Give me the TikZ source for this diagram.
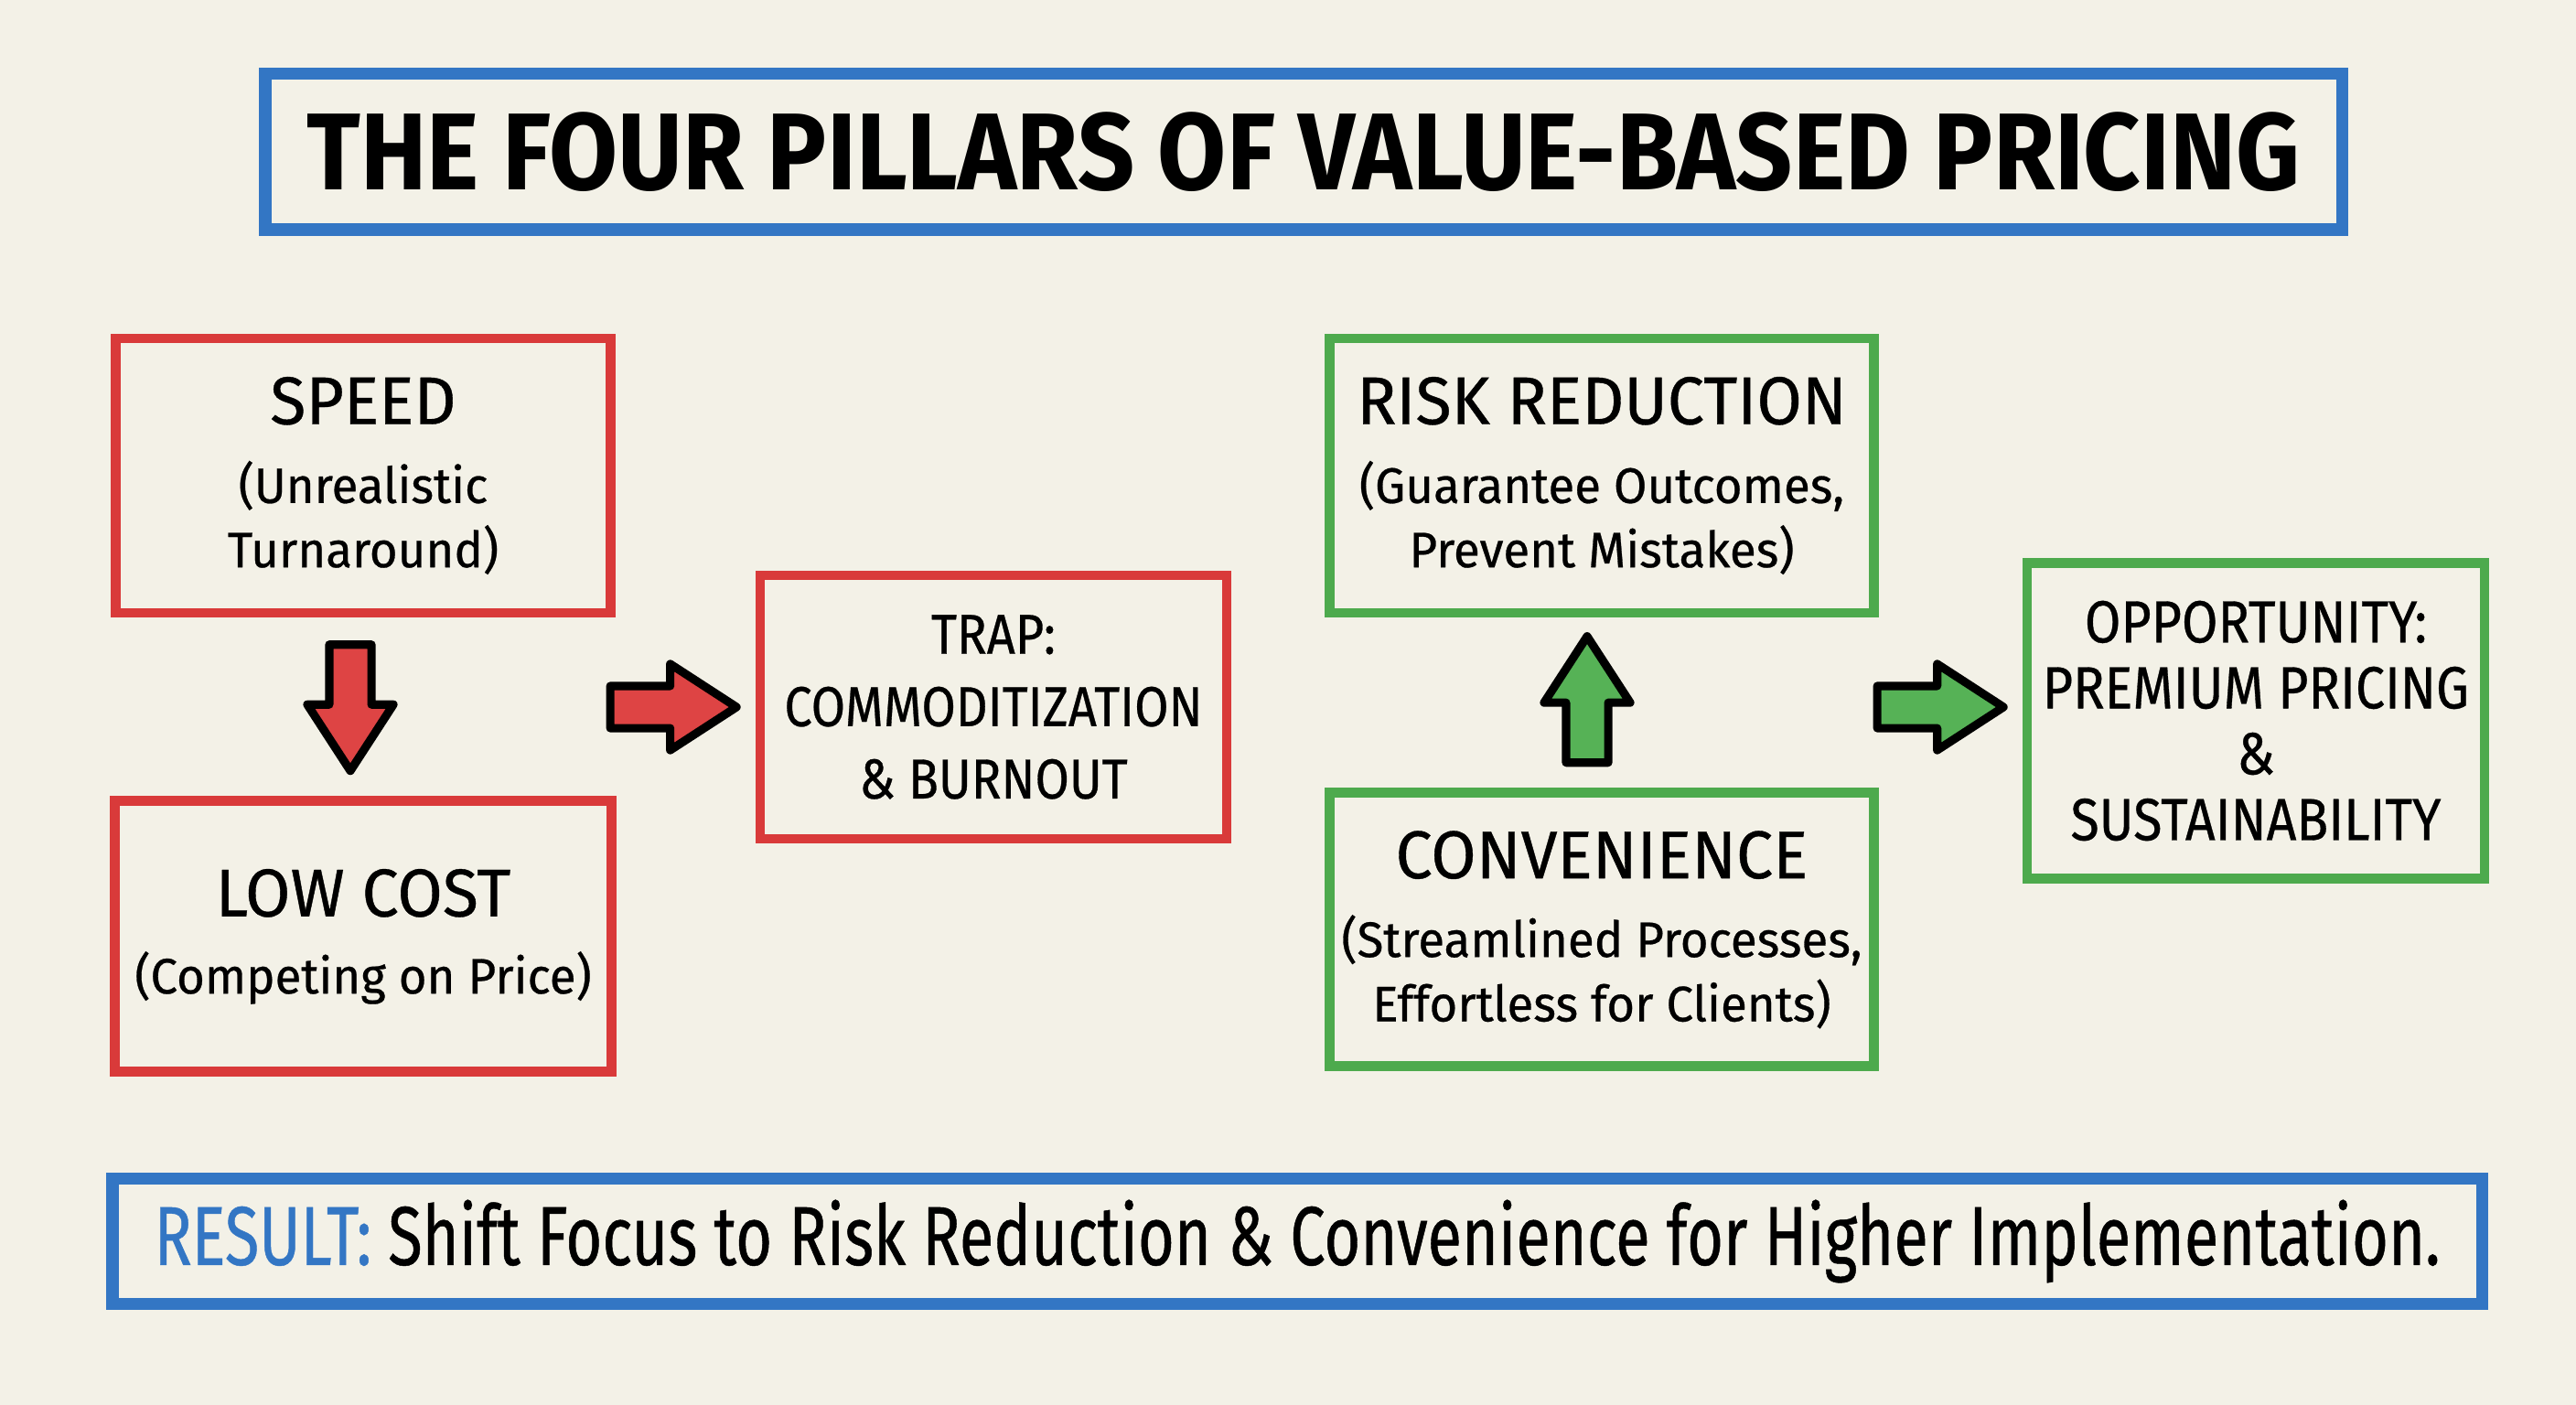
\documentclass[tikz,border=0pt]{standalone}
\usepackage{fontspec}
\setmainfont{Fira Sans}[FakeStretch=0.97, FakeBold=0.5]
\newfontfamily\capsfont{Fira Sans}[FakeStretch=0.88, FakeBold=0.5]
\newfontfamily\titlefont{Fira Sans}[FakeStretch=0.91]
\newfontfamily\resultfont{Fira Sans}[FakeStretch=0.75, FakeBold=0.5]
\usetikzlibrary{positioning, shapes.arrows, calc}

\definecolor{bgcream}{HTML}{F3F1E7}
\definecolor{pillred}{HTML}{D93A3A}
\definecolor{pillgreen}{HTML}{4DAA4D}
\definecolor{pillblue}{HTML}{3376C4}
\definecolor{arrred}{HTML}{DE4444}
\definecolor{arrgreen}{HTML}{56B256}

\newcommand{\headtxt}{\fontsize{21}{24}\selectfont}
\newcommand{\subtxt}{\fontsize{15.5}{20}\selectfont}
\newcommand{\captxt}{\capsfont\fontsize{17.5}{22.5}\selectfont}

\begin{document}
\begin{tikzpicture}[
    font=\subtxt,
    node distance=1.9cm and 1.5cm,
    pillbox/.style={
        rectangle, draw, line width=3.1pt, line cap=round,
        align=center, inner sep=0pt
    },
    redbox/.style={pillbox, draw=pillred},
    greenbox/.style={pillbox, draw=pillgreen},
    bluebox/.style={pillbox, draw=pillblue, line width=3.7pt},
    blockarrow/.style={
        single arrow, draw=black, line width=2.6pt, line join=round,
        inner sep=0.185cm, minimum height=1.38cm,
        single arrow head extend=0.24cm, single arrow tip angle=66
    },
    redarrow/.style={blockarrow, fill=arrred},
    greenarrow/.style={blockarrow, fill=arrgreen}
]

%% ─── CANVAS ──────────────────────────────────────────────────────────────

\fill[bgcream] (0,0) rectangle (28.16,-15.36);
\useasboundingbox (0,0) rectangle (28.16,-15.36);

%% ─── TITLE ───────────────────────────────────────────────────────────────

\node[bluebox, minimum width=22.7cm, minimum height=1.7cm,
      font=\titlefont\fontsize{34}{40}\selectfont\bfseries]
    (title) at (14.25,-1.66) {THE FOUR PILLARS OF VALUE-BASED PRICING};

%% ─── LEFT: RED PILLARS ───────────────────────────────────────────────────

\node[redbox, minimum width=5.41cm, minimum height=3.0cm]
    (speed) at (3.97,-5.20)
    {{\headtxt SPEED}\\[4.5pt] (Unrealistic\\ Turnaround)};

\node[redbox, minimum width=5.43cm, minimum height=2.96cm,
      below=1.95cm of speed]
    (lowcost) {{\headtxt LOW COST}\\[4pt] (Competing on Price)};

\node[redbox, minimum width=5.1cm, minimum height=2.88cm,
      font=\captxt]
    (trap) at (10.86,-7.73) {TRAP:\\ COMMODITIZATION\\ \& BURNOUT};

%% ─── RIGHT: GREEN PILLARS ────────────────────────────────────────────────

\node[greenbox, minimum width=5.95cm, minimum height=3.0cm]
    (risk) at (17.51,-5.20)
    {{\headtxt RISK REDUCTION}\\[4.5pt] (Guarantee Outcomes,\\ Prevent Mistakes)};

\node[greenbox, minimum width=5.95cm, minimum height=2.99cm,
      below=1.86cm of risk]
    (conv) {{\headtxt CONVENIENCE}\\[4.5pt] (Streamlined Processes,\\ Effortless for Clients)};

\node[greenbox, minimum width=5.0cm, minimum height=3.45cm,
      font=\capsfont\fontsize{18.5}{20.5}\selectfont]
    (opp) at (24.66,-7.88)
    {OPPORTUNITY:\\ PREMIUM PRICING\\ \&\\ SUSTAINABILITY};

%% ─── BLOCK ARROWS ────────────────────────────────────────────────────────

% Speed -> Low Cost
\node[redarrow, shape border rotate=270]
    (a1) at ($(speed.south)!0.5!(lowcost.north)+(-0.14,0.17)$) {};

% pillars -> Trap
\node[redarrow, left=0.12cm of trap] (a2) {};

% Convenience -> Risk Reduction
\node[greenarrow, shape border rotate=90]
    (a3) at ($(risk.south)!0.5!(conv.north)+(-0.16,-0.14)$) {};

% pillars -> Opportunity
\coordinate (oppin) at (opp.west |- trap.west);
\node[greenarrow, left=0.12cm of oppin] (a4) {};

%% ─── RESULT BANNER ───────────────────────────────────────────────────────

\node[bluebox, minimum width=25.9cm, minimum height=1.37cm,
      font=\resultfont\fontsize{26}{30}\selectfont]
    (result) at (14.18,-13.57)
    {{\color{pillblue}RESULT:} Shift Focus to Risk Reduction \& Convenience for Higher Implementation.};

\end{tikzpicture}
\end{document}
